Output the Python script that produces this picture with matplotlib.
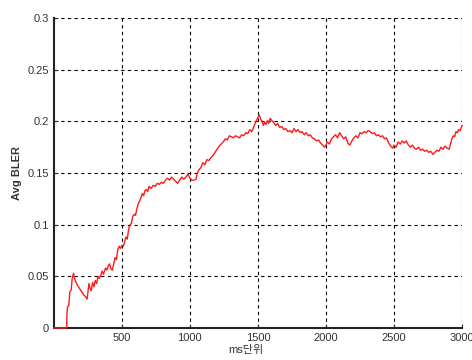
import matplotlib
matplotlib.use("Agg")
import matplotlib.pyplot as plt

# 시간(ms) 대 평균 BLER
ms = [0, 95, 96, 100, 110, 118, 128, 135, 145, 150, 160, 175, 190, 205, 220, 235,
      245, 250, 258, 265, 275, 285, 295, 305, 315, 325, 335, 345, 355, 365, 380,
      390, 400, 410, 420, 430, 440, 450, 460, 470, 480, 490, 500, 510, 520, 530,
      540, 550, 560, 570, 580, 590, 600, 610, 620, 630, 640, 650, 660, 670, 680,
      690, 700, 715, 730, 745, 760, 775, 790, 805, 820, 835, 850, 865, 880, 895,
      910, 925, 940, 955, 970, 985, 1000, 1015, 1030, 1045, 1055, 1065, 1080,
      1095, 1110, 1125, 1140, 1155, 1170, 1185, 1200, 1215, 1230, 1245, 1260,
      1275, 1290, 1305, 1320, 1335, 1350, 1365, 1380, 1395, 1410, 1425, 1440,
      1455, 1470, 1480, 1490, 1500, 1510, 1520, 1530, 1540, 1550, 1560, 1570,
      1580, 1590, 1600, 1615, 1630, 1645, 1660, 1675, 1690, 1705, 1720, 1735,
      1750, 1765, 1780, 1795, 1810, 1825, 1840, 1855, 1870, 1885, 1900, 1915,
      1930, 1945, 1960, 1975, 1990, 2000, 2010, 2025, 2040, 2055, 2070, 2085,
      2100, 2115, 2130, 2145, 2160, 2175, 2190, 2205, 2220, 2235, 2250, 2265,
      2280, 2295, 2310, 2325, 2340, 2355, 2370, 2385, 2400, 2415, 2430, 2445,
      2460, 2475, 2490, 2500, 2515, 2530, 2545, 2560, 2575, 2590, 2605, 2620,
      2635, 2650, 2665, 2680, 2695, 2710, 2725, 2740, 2755, 2770, 2785, 2800,
      2815, 2830, 2845, 2860, 2875, 2890, 2905, 2915, 2925, 2935, 2945, 2955,
      2965, 2975, 2985, 3000]
bler = [0, 0, 0.012, 0.020, 0.022, 0.035, 0.037, 0.048, 0.053, 0.049, 0.045,
        0.041, 0.038, 0.035, 0.032, 0.030, 0.028, 0.034, 0.043, 0.039, 0.036,
        0.044, 0.040, 0.046, 0.043, 0.050, 0.048, 0.051, 0.055, 0.052, 0.058,
        0.056, 0.060, 0.062, 0.057, 0.056, 0.062, 0.068, 0.066, 0.076, 0.079,
        0.077, 0.080, 0.079, 0.083, 0.088, 0.086, 0.096, 0.100, 0.101, 0.108,
        0.110, 0.109, 0.115, 0.120, 0.123, 0.126, 0.130, 0.128, 0.133, 0.134,
        0.132, 0.137, 0.135, 0.138, 0.137, 0.140, 0.139, 0.141, 0.140, 0.143,
        0.145, 0.143, 0.146, 0.144, 0.142, 0.140, 0.143, 0.146, 0.144, 0.146,
        0.149, 0.145, 0.143, 0.143, 0.144, 0.150, 0.153, 0.155, 0.160, 0.158,
        0.163, 0.162, 0.165, 0.167, 0.170, 0.173, 0.176, 0.178, 0.180, 0.183,
        0.182, 0.186, 0.185, 0.184, 0.186, 0.185, 0.184, 0.187, 0.186, 0.189,
        0.188, 0.192, 0.190, 0.195, 0.198, 0.201, 0.204, 0.206, 0.202, 0.200,
        0.196, 0.199, 0.197, 0.201, 0.198, 0.203, 0.201, 0.199, 0.196, 0.198,
        0.194, 0.195, 0.192, 0.193, 0.190, 0.191, 0.189, 0.193, 0.190, 0.192,
        0.189, 0.190, 0.187, 0.189, 0.186, 0.187, 0.184, 0.183, 0.181, 0.182,
        0.179, 0.177, 0.175, 0.177, 0.180, 0.178, 0.183, 0.185, 0.187, 0.184,
        0.189, 0.186, 0.183, 0.185, 0.179, 0.177, 0.181, 0.184, 0.186, 0.184,
        0.189, 0.188, 0.190, 0.189, 0.191, 0.190, 0.188, 0.189, 0.186, 0.187,
        0.185, 0.186, 0.183, 0.184, 0.179, 0.176, 0.174, 0.177, 0.175, 0.180,
        0.178, 0.181, 0.179, 0.181, 0.177, 0.175, 0.177, 0.174, 0.173, 0.175,
        0.172, 0.173, 0.171, 0.172, 0.170, 0.171, 0.168, 0.170, 0.172, 0.171,
        0.175, 0.173, 0.176, 0.174, 0.173, 0.178, 0.183, 0.186, 0.185, 0.190,
        0.189, 0.192, 0.191, 0.196]

xticks = [500, 1000, 1500, 2000, 2500, 3000]
yticks = [0, 0.05, 0.1, 0.15, 0.2, 0.25, 0.3]
ytick_labels = ["0", "0.05", "0.1", "0.15", "0.2", "0.25", "0.3"]

plt.rcParams['font.family'] = ['Liberation Sans', 'Noto Sans CJK KR']

fig = plt.figure(figsize=(4.72, 3.60), dpi=100)
ax = fig.add_axes([0.114, 0.089, 0.865, 0.861])

# 선이 축 위에도 보이도록 clip 해제
ax.plot(ms, bler, color='#ff1a1a', linewidth=1.0, zorder=5, clip_on=False)

ax.set_xlim(0, 3000)
ax.set_ylim(0, 0.3)
ax.set_xticks(xticks)
ax.set_yticks(yticks)
ax.set_yticklabels(ytick_labels)
ax.tick_params(direction='in', length=3, labelsize=8, colors='#333333')
ax.grid(True, color='black', linestyle=(0, (3, 3)), linewidth=0.8)

for side in ['top', 'right']:
    ax.spines[side].set_visible(False)
for side in ['left', 'bottom']:
    ax.spines[side].set_linewidth(1.5)
    ax.spines[side].set_color('#222222')
    ax.spines[side].set_zorder(4)

ax.set_xlabel('ms단위', fontsize=8, color='#333333', labelpad=6)
ax.xaxis.set_label_coords(0.47, -0.055)
ax.set_ylabel('Avg BLER', fontsize=8, color='#333333', fontweight='bold', labelpad=4)

fig.savefig('out.png', dpi=100)
